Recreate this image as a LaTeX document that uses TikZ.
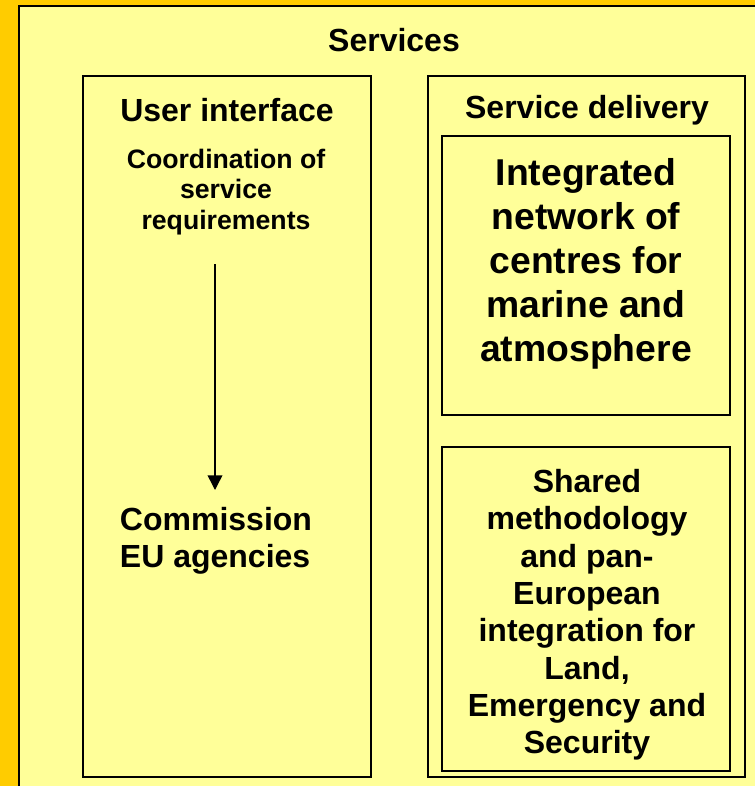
\documentclass[tikz,border=0pt]{standalone}
\usepackage{fontspec}
\setmainfont{Liberation Sans}
\usetikzlibrary{arrows.meta}
\definecolor{bgorange}{HTML}{FFCC00}
\definecolor{paleyellow}{HTML}{FFFF99}
\begin{document}
\begin{tikzpicture}[x=0.75pt,y=-0.75pt,
  frame/.style={draw=black,line width=1.6pt},
  title/.style={font=\bfseries\fontsize{24}{27.6}\selectfont,align=center,inner sep=0pt},
  lower/.style={font=\bfseries\fontsize{24}{28}\selectfont,align=center,inner sep=0pt},
  small/.style={font=\bfseries\fontsize{20}{23}\selectfont,align=center,inner sep=0pt},
  big/.style={font=\bfseries\fontsize{28}{33}\selectfont,align=center,inner sep=0pt},
  flow/.style={line width=1.1pt,-{Triangle[length=11pt,width=11pt]}}]
\useasboundingbox (0,0) rectangle (755,786);
\fill[bgorange] (0,0) rectangle (755,786);
\begin{scope}
  \clip (0,0) rectangle (755,786);
  \draw[fill=paleyellow,line width=2pt] (19,6) rectangle (800,830);
\end{scope}
% boxes
\draw[frame] (83,76) rectangle (371,777);
\draw[frame] (428,76) rectangle (745,777);
\draw[frame] (442,136) rectangle (730,415);
\draw[frame] (442,447) rectangle (730,771);
% texts
\node[title] (services) at (394,40) {Services};
\node[title] (ui) at (227,110) {User interface};
\node[title] (sd) at (587,110) {Service delivery};
\node[small] (coord) at (226,192) {Coordination of\\service\\requirements};
\node[big] (integ) at (586,264) {Integrated\\network of\\centres for\\marine and\\atmosphere};
\node[lower] (shared) at (587,615) {Shared\\methodology\\and pan-\\European\\integration for\\Land,\\Emergency and\\Security};
\node[title,align=left] (comm) at (216,541) {Commission\\EU agencies};
% arrow
\coordinate (a1) at (215,264);
\coordinate (a2) at (215,490);
\draw[flow] (a1) -- (a2);
\end{tikzpicture}
\end{document}
